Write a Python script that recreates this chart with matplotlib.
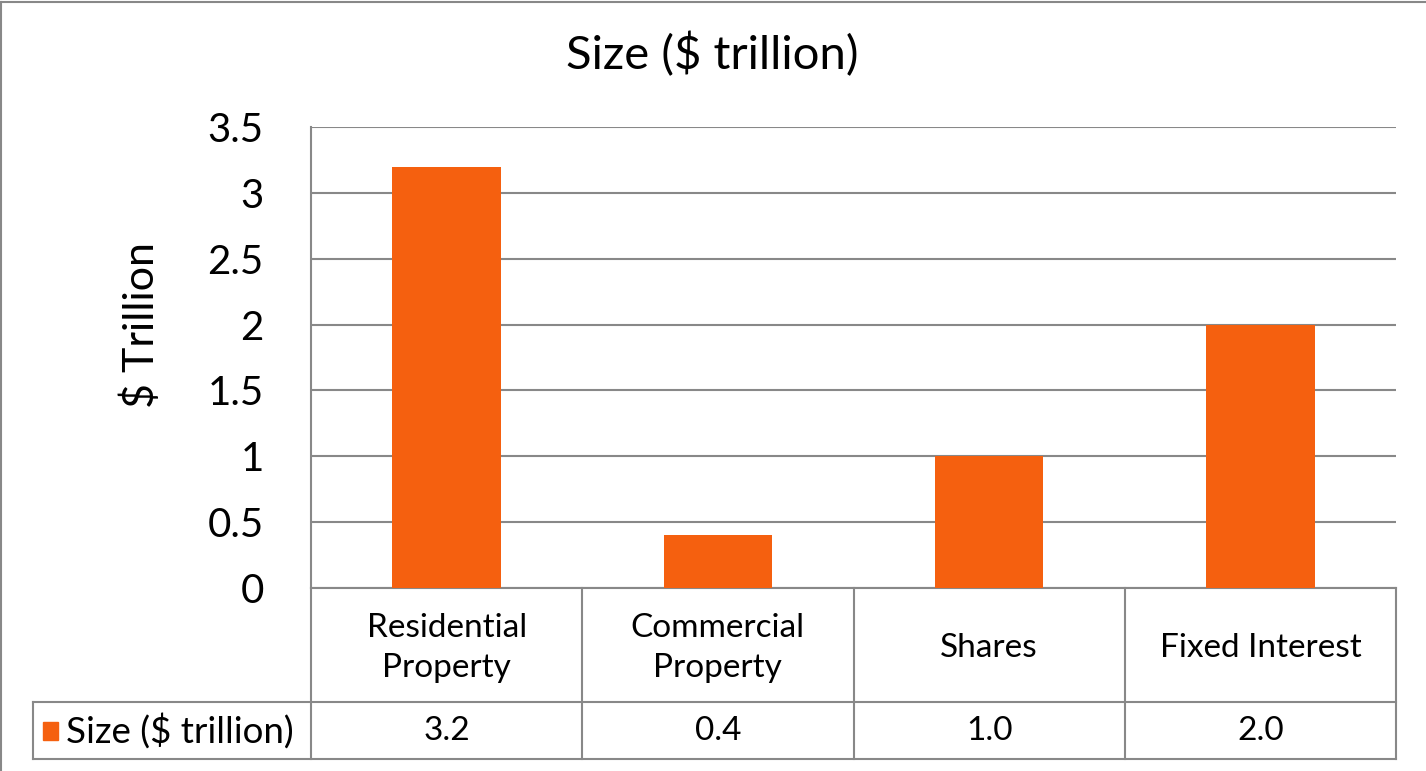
import matplotlib.pyplot as plt
from matplotlib.lines import Line2D
from matplotlib.patches import Rectangle
import matplotlib.transforms as mtransforms

plt.rcParams['font.family'] = ['Lato', 'DejaVu Sans']

categories = ['Residential\nProperty', 'Commercial\nProperty', 'Shares', 'Fixed Interest']
sizes = [3.2, 0.4, 1.0, 2.0]
series_name = 'Size ($ trillion)'
yticks = [0, 0.5, 1, 1.5, 2, 2.5, 3, 3.5]

bar_color = '#F5600F'
line_color = '#888888'

W, H = 1426, 771
fig = plt.figure(figsize=(W / 100, H / 100), dpi=100)

# plot area in pixels: x 311..1396, y 127..588
ax = fig.add_axes([311 / W, (H - 588) / H, 1085 / W, 461 / H])
x = list(range(len(categories)))
ax.bar(x, sizes, width=0.4, color=bar_color, zorder=3)
ax.set_xlim(-0.5, len(categories) - 0.5)
ax.set_ylim(0, 3.5)
ax.set_yticks(yticks)
ax.set_yticklabels([f'{t:g}' for t in yticks], fontsize=29)
ax.tick_params(axis='y', length=0, pad=34)
ax.set_xticks([])
ax.grid(axis='y', color=line_color, linewidth=1.5, zorder=0)
for s in ['top', 'right', 'bottom']:
    ax.spines[s].set_visible(False)
ax.spines['left'].set_color(line_color)
ax.spines['left'].set_linewidth(1.5)
ax.set_ylabel('$ Trillion', fontsize=31)
ax.yaxis.set_label_coords(-0.138, 0.57)

fig.text(712 / W, 1 - 55 / H, series_name, fontsize=34, ha='center', va='center')

# data table below the axis
trans = mtransforms.blended_transform_factory(ax.transData, ax.transAxes)
row1 = -114 / 461
row2 = -171 / 461
left_cell = -278 / 1085
lk = dict(color=line_color, linewidth=1.5, clip_on=False)
ax.plot([-0.5, 3.5], [0, 0], transform=trans, **lk)
ax.plot([left_cell, 1], [row1, row1], transform=ax.transAxes, **lk)
ax.plot([left_cell, 1], [row2, row2], transform=ax.transAxes, **lk)
ax.plot([left_cell, left_cell], [row1, row2], transform=ax.transAxes, **lk)
for i in range(len(categories) + 1):
    ax.plot([i - 0.5, i - 0.5], [0, row2], transform=trans, **lk)
for i, (c, v) in enumerate(zip(categories, sizes)):
    ax.text(i, row1 / 2 - 3 / 461, c, transform=trans, ha='center', va='center',
            fontsize=24, linespacing=1.4)
    ax.text(i, (row1 + row2) / 2, f'{v:.1f}', transform=trans, ha='center',
            va='center', fontsize=24)

# legend key in the row header
ax.add_patch(Rectangle(((43 - 311) / 1085, (row1 + row2) / 2 - 9 / 461),
                       15 / 1085, 18 / 461, transform=ax.transAxes,
                       color=bar_color, clip_on=False))
ax.text((66 - 311) / 1085, (row1 + row2) / 2, series_name, transform=ax.transAxes,
        ha='left', va='center', fontsize=26.5)

# outer chart border (top and left edges)
fig.add_artist(Line2D([1 / W, 1], [1 - 2 / H, 1 - 2 / H], transform=fig.transFigure,
                      color=line_color, linewidth=1.5))
fig.add_artist(Line2D([1 / W, 1 / W], [0, 1 - 2 / H], transform=fig.transFigure,
                      color=line_color, linewidth=1.5))

fig.savefig('out.png', dpi=100)
